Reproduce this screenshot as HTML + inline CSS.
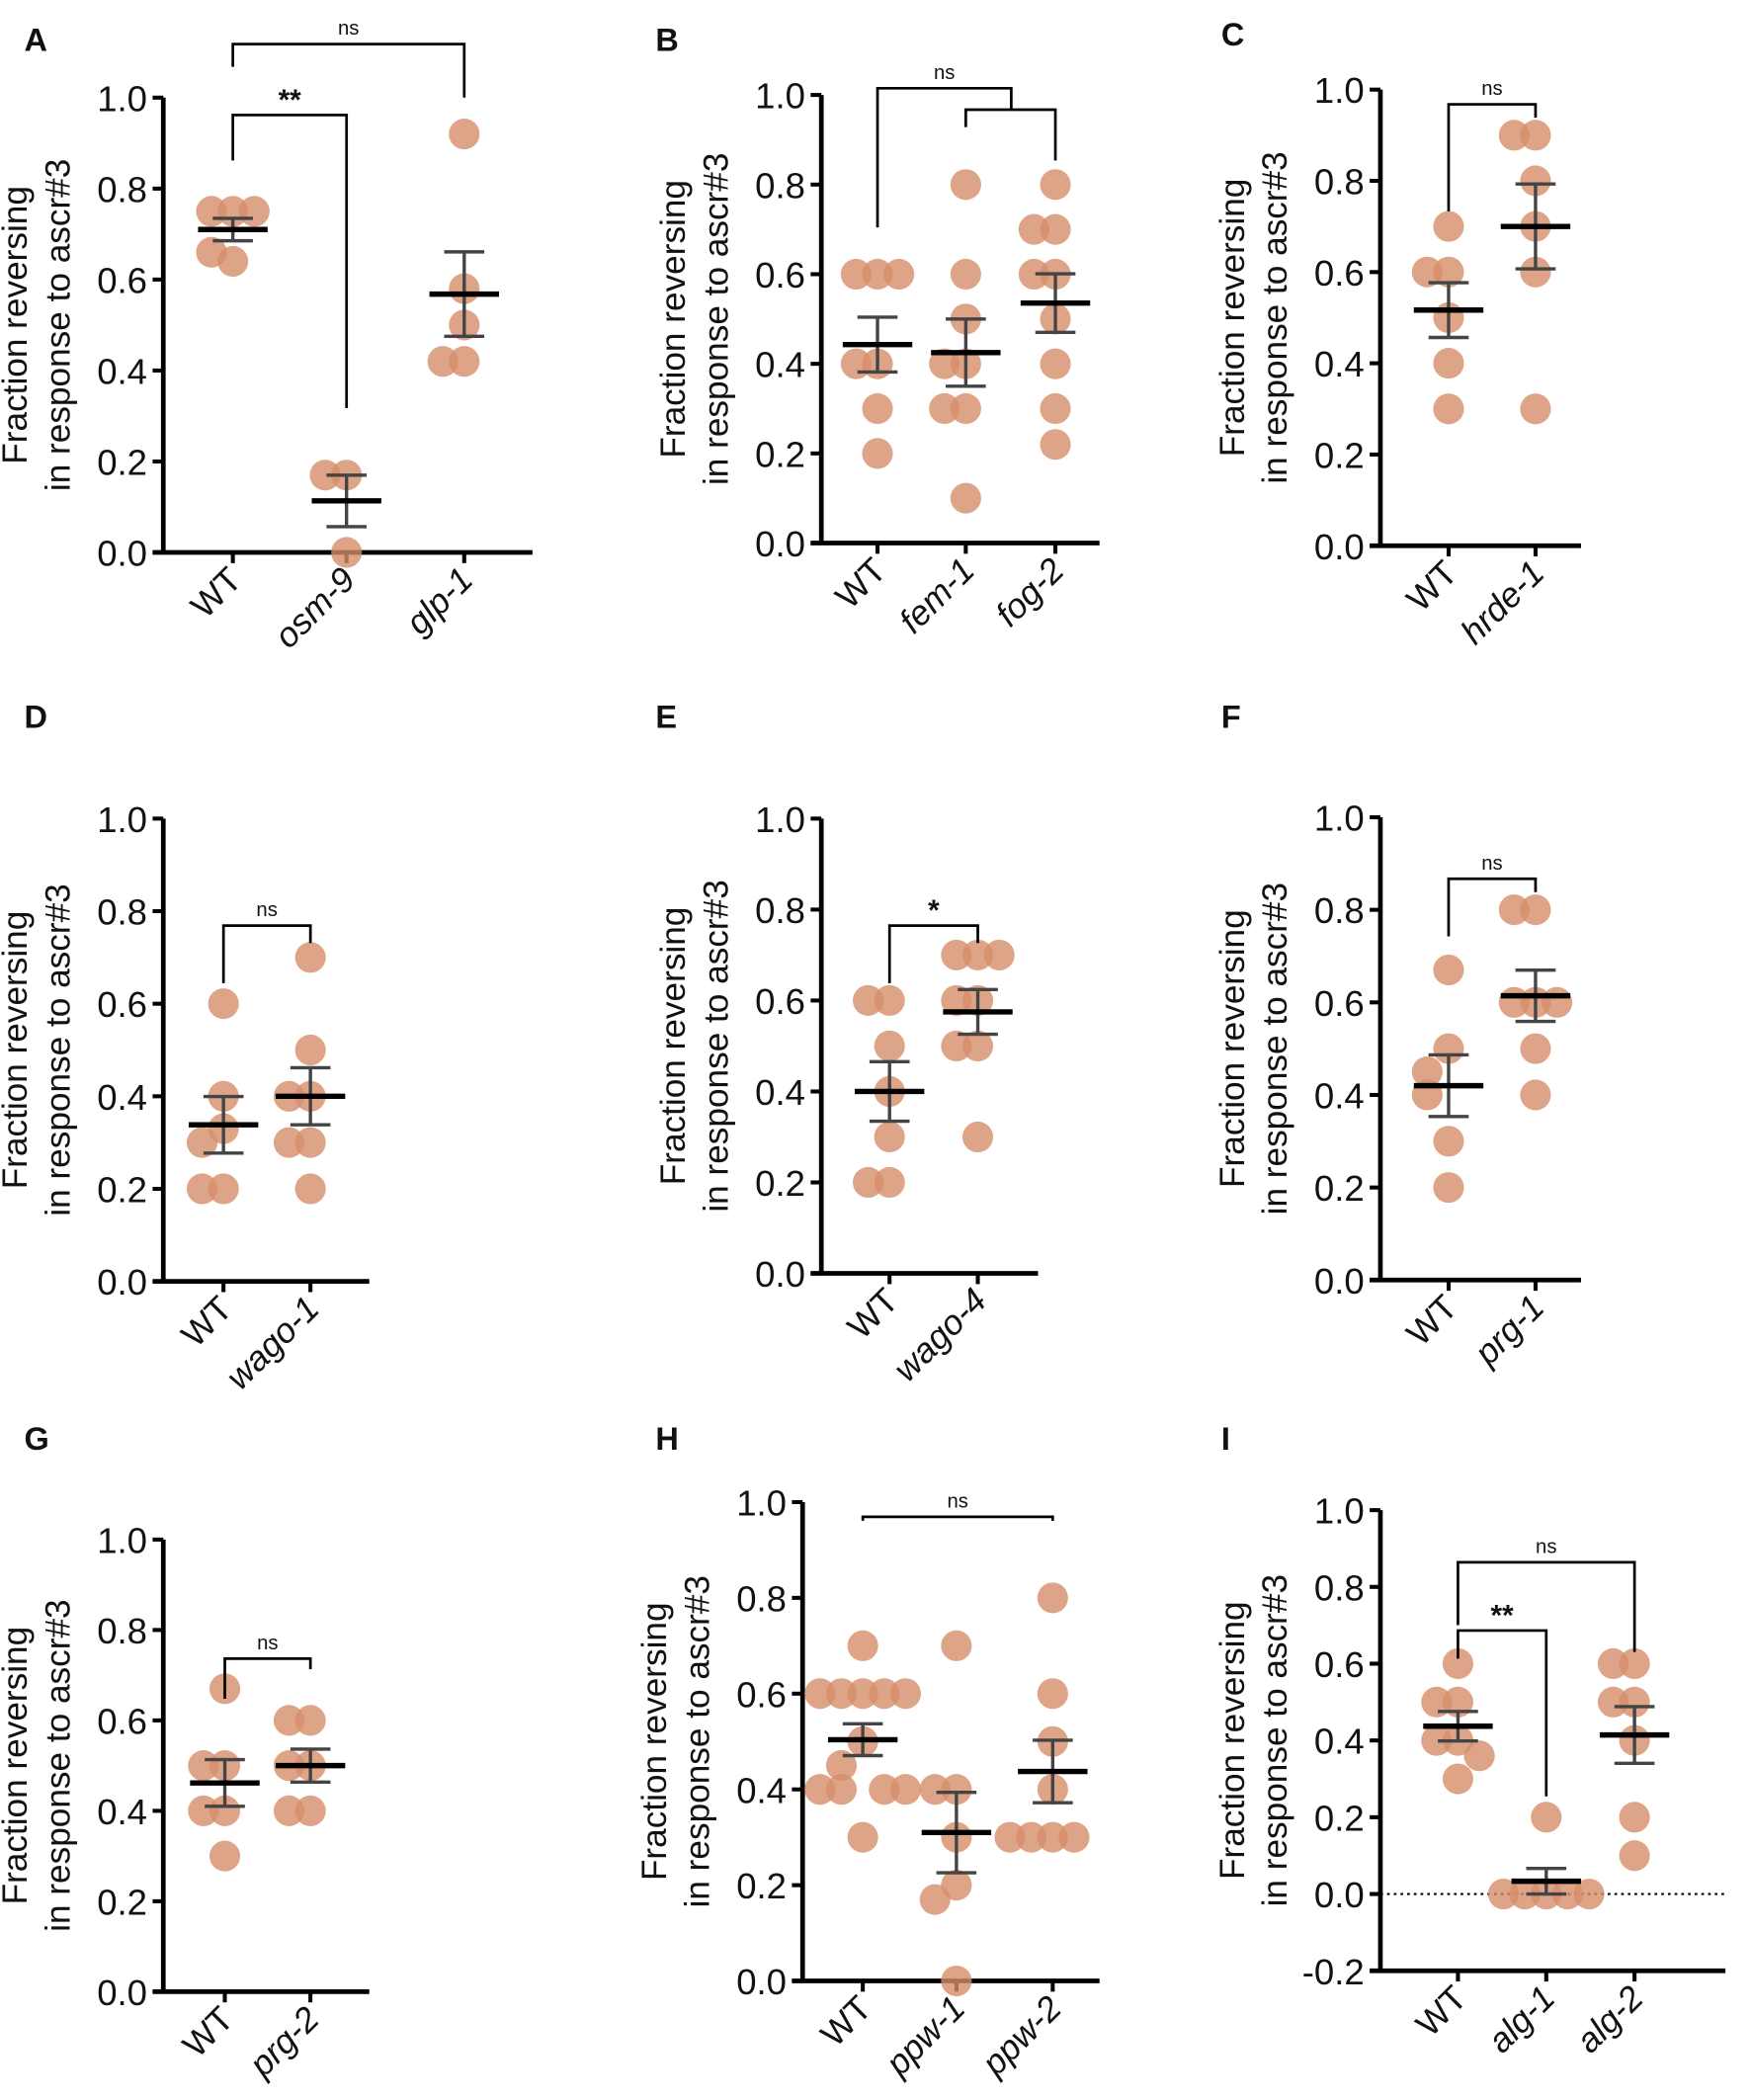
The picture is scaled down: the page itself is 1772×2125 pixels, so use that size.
<!DOCTYPE html>
<html><head><meta charset="utf-8">
<style>
html,body{margin:0;padding:0;background:#fff;}
svg{display:block;}
text{font-family:"Liberation Sans",Arial,sans-serif;fill:#111;}
</style></head>
<body>
<svg id="fig" width="1772" height="2125" viewBox="0 0 1309 1570" xmlns="http://www.w3.org/2000/svg"></svg>
<script>
// ---- Data ----
const panelLetters = ["A","B","C","D","E","F","G","H","I"];
const catsA = ["WT","osm-9","glp-1"];
const valsA = [[0.75,0.75,0.75,0.64,0.66],[0.17,0.17,0.0],[0.92,0.58,0.50,0.42,0.42]];
const catsB = ["WT","fem-1","fog-2"];
const valsB = [[0.6,0.6,0.6,0.4,0.4,0.3,0.2],[0.8,0.6,0.5,0.4,0.4,0.3,0.3,0.1],[0.8,0.7,0.7,0.6,0.6,0.5,0.4,0.3,0.22]];
const catsC = ["WT","hrde-1"];
const valsC = [[0.7,0.6,0.6,0.5,0.4,0.3],[0.9,0.9,0.8,0.7,0.6,0.3]];
const catsD = ["WT","wago-1"];
const valsD = [[0.6,0.4,0.33,0.3,0.2,0.2],[0.7,0.5,0.4,0.4,0.3,0.3,0.2]];
const catsE = ["WT","wago-4"];
const valsE = [[0.6,0.6,0.5,0.4,0.3,0.2,0.2],[0.7,0.7,0.7,0.6,0.6,0.5,0.5,0.3]];
const catsF = ["WT","prg-1"];
const valsF = [[0.67,0.5,0.45,0.4,0.3,0.2],[0.8,0.8,0.6,0.6,0.6,0.5,0.4]];
const catsG = ["WT","prg-2"];
const valsG = [[0.67,0.5,0.5,0.4,0.4,0.3],[0.6,0.6,0.5,0.5,0.4,0.4]];
const catsH = ["WT","ppw-1","ppw-2"];
const valsH = [[0.7,0.6,0.6,0.6,0.6,0.6,0.5,0.45,0.4,0.4,0.4,0.4,0.3],[0.7,0.4,0.4,0.3,0.2,0.17,0.0],[0.8,0.6,0.5,0.4,0.3,0.3,0.3,0.3]];
const catsI = ["WT","alg-1","alg-2"];
const valsI = [[0.6,0.5,0.5,0.4,0.4,0.36,0.3],[0.2,0,0,0,0,0],[0.6,0.6,0.5,0.5,0.4,0.2,0.1]];
const ticksStd = [0,0.2,0.4,0.6,0.8,1.0];
const ticksI = [-0.2,0,0.2,0.4,0.6,0.8,1.0];

// ---- Layout (display units) ----
const panels = [
 {L:"A",x0:122,y1:73,y0:413,ymin:0,xs:[174,259,347],xend:398,cats:catsA,vals:valsA,ticks:ticksStd,lx:18,ly:22,
  br:[{a:0,b:2,y:33,ta:50,tb:73,lab:"ns"},{a:0,b:1,y:86,ta:120,tb:305,lab:"**"}]},
 {L:"B",x0:614,y1:71,y0:406,ymin:0,xs:[656,722,789],xend:822,cats:catsB,vals:valsB,ticks:ticksStd,lx:490,ly:22,
  br:[{a:1,b:2,y:82,ta:95,tb:120,lab:""},{ax:656,bx:756,y:66,ta:170,tb:82,lab:"ns"}]},
 {L:"C",x0:1032,y1:67,y0:408,ymin:0,xs:[1083,1148],xend:1182,cats:catsC,vals:valsC,ticks:ticksStd,lx:913,ly:18,
  br:[{a:0,b:1,y:78,ta:158,tb:88,lab:"ns"}]},
 {L:"D",x0:122,y1:612,y0:958,ymin:0,xs:[167,232],xend:276,cats:catsD,vals:valsD,ticks:ticksStd,lx:18,ly:528,
  br:[{a:0,b:1,y:692,ta:735,tb:705,lab:"ns"}]},
 {L:"E",x0:614,y1:612,y0:952,ymin:0,xs:[665,731],xend:776,cats:catsE,vals:valsE,ticks:ticksStd,lx:490,ly:528,
  br:[{a:0,b:1,y:692,ta:735,tb:705,lab:"*"}]},
 {L:"F",x0:1032,y1:611,y0:957,ymin:0,xs:[1083,1148],xend:1182,cats:catsF,vals:valsF,ticks:ticksStd,lx:913,ly:528,
  br:[{a:0,b:1,y:657,ta:700,tb:667,lab:"ns"}]},
 {L:"G",x0:122,y1:1151,y0:1489,ymin:0,xs:[168,232],xend:276,cats:catsG,vals:valsG,ticks:ticksStd,lx:18,ly:1068,
  br:[{a:0,b:1,y:1240,ta:1270,tb:1248,lab:"ns"}]},
 {L:"H",x0:600,y1:1123,y0:1481,ymin:0,xs:[645,715,787],xend:822,cats:catsH,vals:valsH,ticks:ticksStd,lx:490,ly:1068,
  br:[{a:0,b:2,y:1134,ta:1137,tb:1137,lab:"ns"}]},
 {L:"I",x0:1032,y1:1129,y0:1416,ymin:-0.2,xs:[1090,1156,1222],xend:1290,cats:catsI,vals:valsI,ticks:ticksI,lx:913,ly:1068,dotted:true,
  br:[{a:0,b:2,y:1168,ta:1215,tb:1235,lab:"ns"},{a:0,b:1,y:1219,ta:1240,tb:1343,lab:"**"}]}
];

const NS="http://www.w3.org/2000/svg";
const svg=document.getElementById('fig');
function mk(tag,attrs,parent,txt){const e=document.createElementNS(NS,tag);for(const k in attrs)e.setAttribute(k,attrs[k]);if(txt!==undefined)e.textContent=txt;(parent||svg).appendChild(e);return e;}

panels.forEach(p=>{
  const g=mk('g',{});
  
  
  const unit=(p.y0-p.y1);
  const Y=v=>p.y0-v*unit;
  const yBottom=Y(p.ymin);
  const lt=mk('text',{x:p.lx,y:p.ly+16,'font-size':24,'font-weight':'bold'},g,p.L);
  
  
  const ya=mk('line',{x1:p.x0,y1:p.y1,x2:p.x0,y2:yBottom,stroke:'#000','stroke-width':3.5},g);
  
  
  p.ticks.forEach(t=>{
    mk('line',{x1:p.x0-8,y1:Y(t),x2:p.x0,y2:Y(t),stroke:'#000','stroke-width':3},g);
    const tl=mk('text',{x:p.x0-12,y:Y(t)+10,'font-size':27,'text-anchor':'end'},g,t.toFixed(1));
    
    
  });
  const xa=mk('line',{x1:p.x0-8,y1:yBottom,x2:p.xend,y2:yBottom,stroke:'#000','stroke-width':3.5},g);
  
  
  if(p.dotted){
    const dl=mk('line',{x1:p.x0,y1:Y(0),x2:p.xend,y2:Y(0),stroke:'#000','stroke-width':1.5,'stroke-dasharray':'2,3'},g);
    
    
  }
  const cy=(p.y1+yBottom)/2;
  const t1=mk('text',{x:0,y:0,'font-size':26,'text-anchor':'middle',transform:`translate(${p.x0-102},${cy}) rotate(-90)`},g,'Fraction reversing');
  
  
  const t2=mk('text',{x:0,y:0,'font-size':26,'text-anchor':'middle',transform:`translate(${p.x0-70},${cy}) rotate(-90)`},g,'in response to ascr#3');
  
  
  p.cats.forEach((c,i)=>{
    const x=p.xs[i];
    mk('line',{x1:x,y1:yBottom,x2:x,y2:yBottom+8,stroke:'#000','stroke-width':3},g);
    const cl=mk('text',{x:0,y:0,'font-size':26,'text-anchor':'end','font-style':c==='WT'?'normal':'italic',transform:`translate(${x+8},${yBottom+22}) rotate(-45)`},g,c);
    
    
    const vals=p.vals[i];const placed=[];
    vals.forEach(v=>{
      const n=placed.filter(w=>Math.abs(w-v)<0.06).length;placed.push(v);
      const off=n===0?0:(n%2===1?-1:1)*Math.ceil(n/2)*16;
      const pt=mk('circle',{cx:x+off,cy:Y(v),r:11.5,fill:'#d68d6a','fill-opacity':0.8},g);
      
      
    });
    const m=vals.reduce((a,b)=>a+b,0)/vals.length;
    const sd=Math.sqrt(vals.reduce((a,b)=>a+(b-m)*(b-m),0)/(vals.length-1));
    const se=sd/Math.sqrt(vals.length);
    const eb=mk('g',{},g);
    
    
    mk('line',{x1:x,y1:Y(m+se),x2:x,y2:Y(m-se),stroke:'#444','stroke-width':2.5},eb);
    mk('line',{x1:x-15,y1:Y(m+se),x2:x+15,y2:Y(m+se),stroke:'#444','stroke-width':2.5},eb);
    mk('line',{x1:x-15,y1:Y(m-se),x2:x+15,y2:Y(m-se),stroke:'#444','stroke-width':2.5},eb);
    const ml=mk('line',{x1:x-26,y1:Y(m),x2:x+26,y2:Y(m),stroke:'#000','stroke-width':4},g);
    
    
  });
  p.br.forEach(b=>{
    const xa_=b.ax!==undefined?b.ax:p.xs[b.a], xb_=b.bx!==undefined?b.bx:p.xs[b.b];
    const bp=mk('path',{d:`M${xa_},${b.ta} V${b.y} H${xb_} V${b.tb}`,fill:'none',stroke:'#000','stroke-width':2},g);
    
    
    if(b.lab){
      const big=b.lab!=='ns';
      const sl=mk('text',{x:(xa_+xb_)/2,y:big?b.y-4:b.y-7,'font-size':big?22:15,'font-weight':big?'bold':'normal','text-anchor':'middle'},g,b.lab);
      
      
    }
  });
});
</script>
</body></html>
